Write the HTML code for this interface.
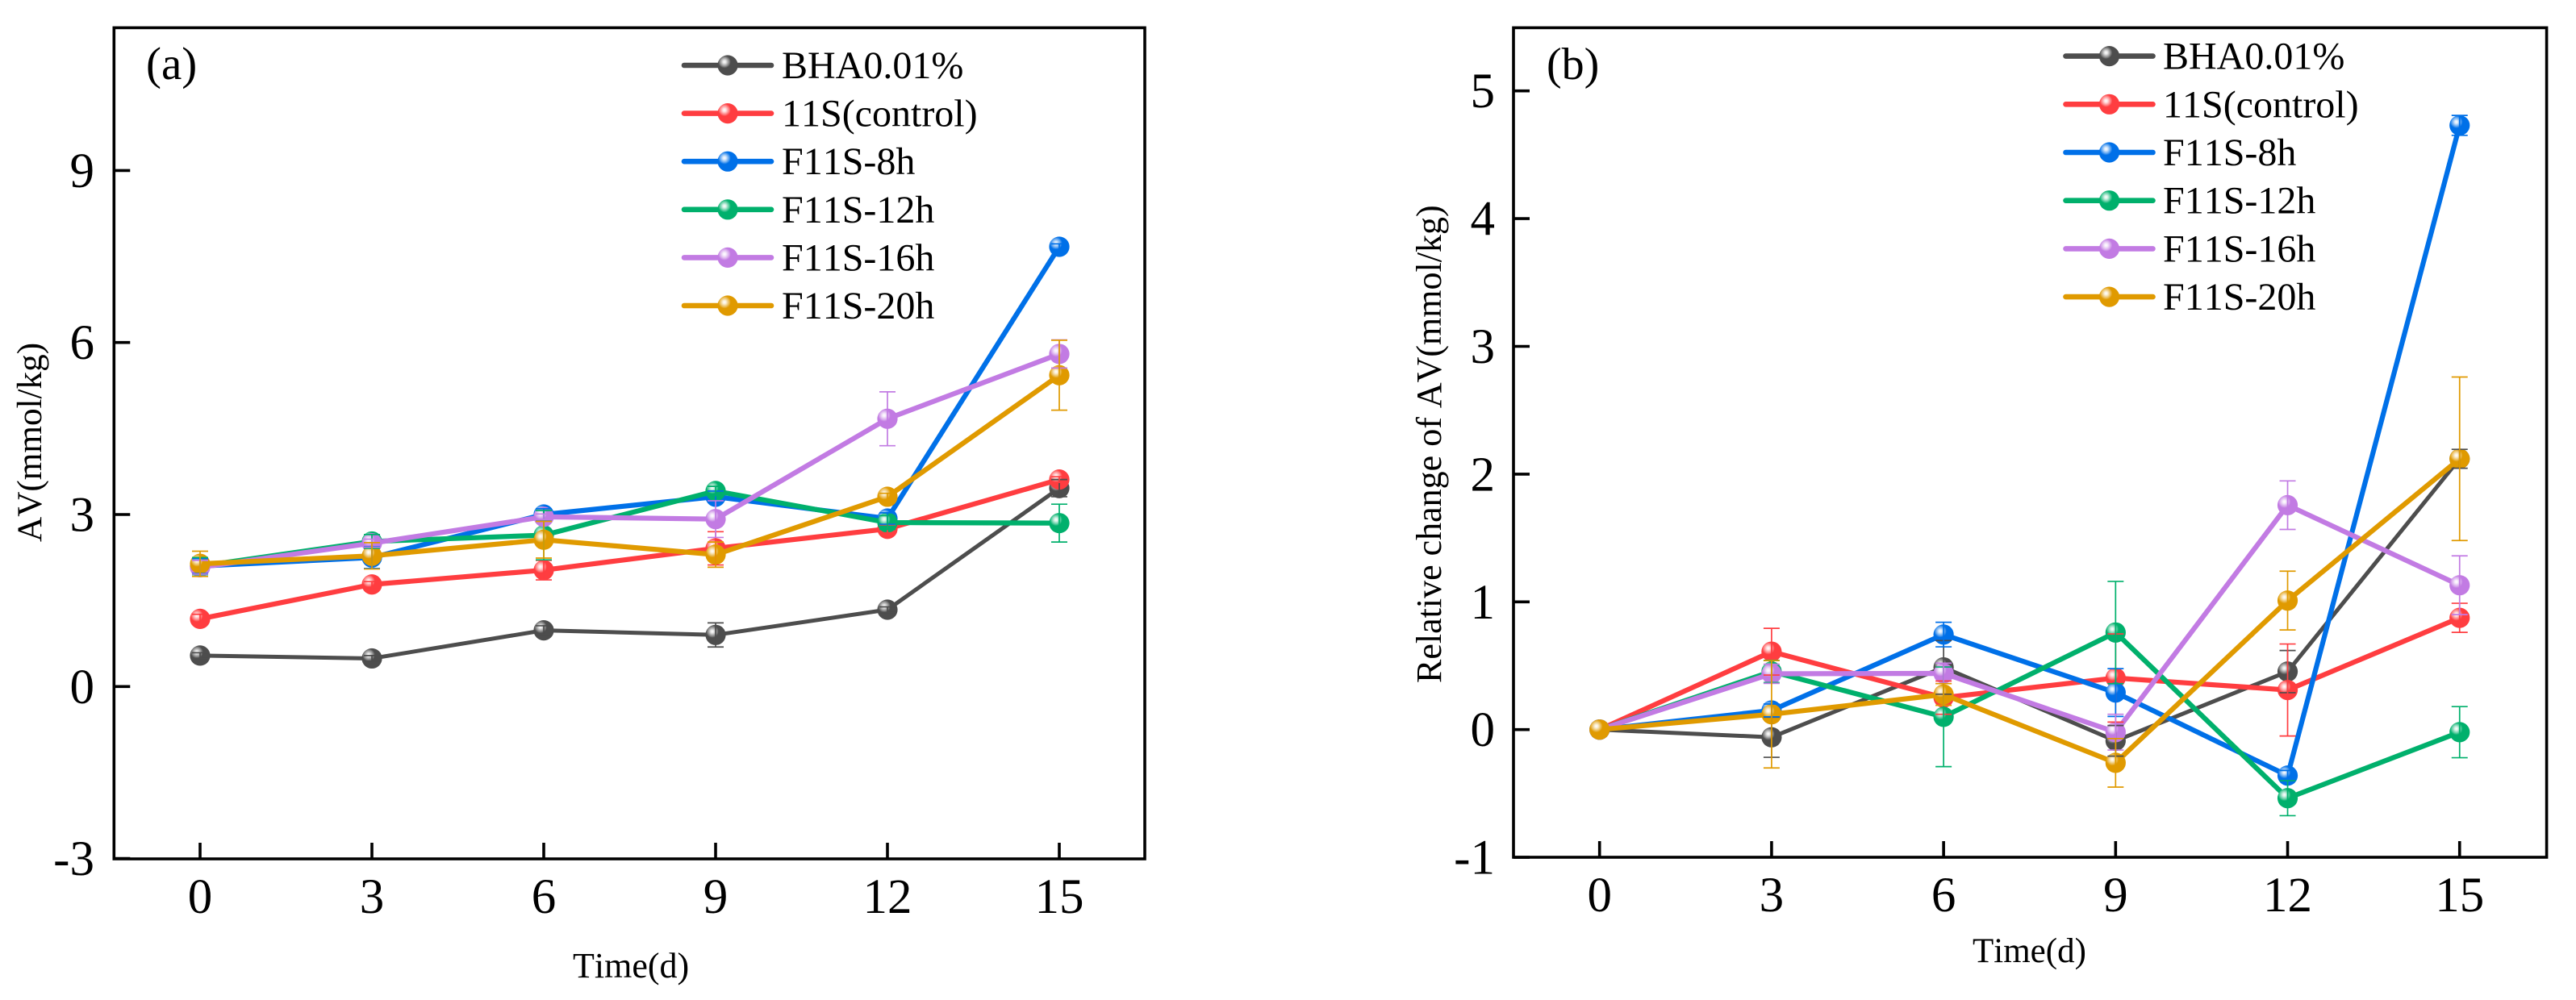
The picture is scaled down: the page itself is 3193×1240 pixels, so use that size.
<!DOCTYPE html>
<html lang="en">
<head>
<meta charset="utf-8">
<title>AV over storage time</title>
<style>
html,body{margin:0;padding:0;background:#fff;}
svg{display:block;}
text{font-family:"Liberation Serif",serif;font-kerning:none;fill:#000;}
</style>
</head>
<body>
<svg id="figure" xmlns="http://www.w3.org/2000/svg" width="3193" height="1240" viewBox="0 0 3193 1240">
  <defs>
    <radialGradient id="gloss" cx="0.34" cy="0.33" r="0.5">
      <stop offset="0" stop-color="#fff" stop-opacity="1"/>
      <stop offset="0.16" stop-color="#fff" stop-opacity="0.85"/>
      <stop offset="0.42" stop-color="#fff" stop-opacity="0.4"/>
      <stop offset="0.62" stop-color="#fff" stop-opacity="0"/>
    </radialGradient>
  </defs>
  <rect x="0" y="0" width="3193" height="1240" fill="#fff"/>
  <g id="panel-a">
    <text x="181" y="98" font-size="57">(a)</text>
    <text x="710" y="1212" font-size="44">Time(d)</text>
    <text transform="translate(51,672) rotate(-90)" font-size="43.2">AV(mmol/kg)</text>
  </g>
  <g id="panel-b">
    <text x="1917" y="98" font-size="56">(b)</text>
    <text x="2445" y="1193" font-size="43">Time(d)</text>
    <text transform="translate(1786,847) rotate(-90)" font-size="44">Relative change of AV(mmol/kg)</text>
  </g>
</svg>
<script>
// Shared categories and series names
const timeDays = [0, 3, 6, 9, 12, 15];
const seriesNames = ['BHA0.01%', '11S(control)', 'F11S-8h', 'F11S-12h', 'F11S-16h', 'F11S-20h'];
const seriesKeys = ['bha', 'control', 'f8h', 'f12h', 'f16h', 'f20h'];
const seriesColors = ['#4d4d4d', '#ff3d40', '#0070e8', '#00b06c', '#c27be3', '#e09a00'];

// Panel (a) values
const avTicks = [-3, 0, 3, 6, 9];
const avBha = [0.54, 0.49, 0.98, 0.90, 1.34, 3.46];
const avControl = [1.18, 1.78, 2.03, 2.41, 2.75, 3.61];
const avF8h = [2.10, 2.25, 3.00, 3.31, 2.93, 7.67];
const avF12h = [2.10, 2.53, 2.64, 3.41, 2.86, 2.85];
const avF16h = [2.08, 2.50, 2.96, 2.92, 4.67, 5.80];
const avF20h = [2.14, 2.28, 2.56, 2.30, 3.31, 5.43];
const avErrBha = [0.05, 0.05, 0.08, 0.21, 0.05, 0.15];
const avErrControl = [0.08, 0.05, 0.17, 0.29, 0.07, 0.05];
const avErrF8h = [0.13, 0.19, 0.10, 0.10, 0.10, 0.05];
const avErrF12h = [0.15, 0.12, 0.43, 0.08, 0.12, 0.33];
const avErrF16h = [0.12, 0.07, 0.05, 0.32, 0.47, 0.245];
const avErrF20h = [0.22, 0.23, 0.32, 0.22, 0.06, 0.61];

// Panel (b) values
const changeTicks = [-1, 0, 1, 2, 3, 4, 5];
const changeBha = [0, -0.06, 0.487, -0.088, 0.454, 2.12];
const changeControl = [0, 0.61, 0.25, 0.404, 0.31, 0.875];
const changeF8h = [0, 0.15, 0.744, 0.29, -0.36, 4.73];
const changeF12h = [0, 0.455, 0.10, 0.76, -0.537, -0.02];
const changeF16h = [0, 0.437, 0.44, -0.02, 1.757, 1.13];
const changeF20h = [0, 0.12, 0.275, -0.26, 1.01, 2.12];
const changeErrBha = [0, 0.157, 0.21, 0.12, 0.165, 0.074];
const changeErrControl = [0, 0.183, 0.13, 0.345, 0.36, 0.114];
const changeErrF8h = [0, 0.05, 0.096, 0.187, 0.04, 0.078];
const changeErrF12h = [0, 0.087, 0.39, 0.40, 0.137, 0.20];
const changeErrF16h = [0, 0.075, 0.08, 0.14, 0.19, 0.23];
const changeErrF20h = [0, 0.42, 0.085, 0.19, 0.23, 0.64];

const SVG_NS = 'http://www.w3.org/2000/svg';

function make(parent, tag, attrs, text) {
  const el = document.createElementNS(SVG_NS, tag);
  for (const k in attrs) el.setAttribute(k, attrs[k]);
  if (text !== undefined) el.textContent = text;
  parent.appendChild(el);
  return el;
}

function drawMarker(parent, cx, cy, color, name) {
  const g = make(parent, 'g', {});
  
  
  make(g, 'circle', { cx: cx, cy: cy, r: 12.6, fill: color });
  make(g, 'circle', { cx: cx, cy: cy, r: 12.6, fill: 'url(#gloss)' });
}

function drawPanel(cfg) {
  const root = document.getElementById(cfg.id);
  const xScale = function (t) { return cfg.x0 + cfg.xPerDay * t; };
  const yScale = function (v) { return cfg.y0 - cfg.yPerUnit * v; };

  // Frame
  const frame = make(root, 'rect', {
    x: cfg.left, y: cfg.top, width: cfg.right - cfg.left, height: cfg.bottom - cfg.top,
    fill: 'none', stroke: '#000', 'stroke-width': 3.6
  });
  
  

  // X axis
  timeDays.forEach(function (t) {
    const tick = make(root, 'line', {
      x1: xScale(t), x2: xScale(t), y1: cfg.bottom, y2: cfg.bottom - 20,
      stroke: '#000', 'stroke-width': 3.6
    });
    
    
    const label = make(root, 'text', {
      x: xScale(t), y: cfg.xLabelBaseline, 'font-size': 61, 'text-anchor': 'middle'
    }, String(t));
    
    
  });

  // Y axis
  cfg.yTicks.forEach(function (v) {
    const tick = make(root, 'line', {
      x1: cfg.left, x2: cfg.left + 20, y1: yScale(v), y2: yScale(v),
      stroke: '#000', 'stroke-width': 3.6
    });
    
    
    const label = make(root, 'text', {
      x: cfg.yLabelRight, y: yScale(v) + 20.5, 'font-size': 61, 'text-anchor': 'end'
    }, String(v));
    
    
  });

  // Series lines and markers
  cfg.values.forEach(function (vals, s) {
    const g = make(root, 'g', {});
    
    
    const pts = vals.map(function (v, i) { return xScale(timeDays[i]) + ',' + yScale(v); }).join(' ');
    const line = make(g, 'polyline', {
      points: pts, fill: 'none', stroke: seriesColors[s],
      'stroke-width': s === 0 ? 5 : 6.2, 'stroke-linejoin': 'round'
    });
    
    
    vals.forEach(function (v, i) {
      drawMarker(g, xScale(timeDays[i]), yScale(v), seriesColors[s],
        cfg.id + '-point-' + seriesKeys[s] + '-' + timeDays[i]);
    });
  });

  // Error bars on top
  cfg.errors.forEach(function (errs, s) {
    const g = make(root, 'g', { stroke: seriesColors[s], 'stroke-width': 1.7, fill: 'none' });
    
    
    errs.forEach(function (e, i) {
      if (!e) return;
      const x = xScale(timeDays[i]);
      const v = cfg.values[s][i];
      const hi = yScale(v + e);
      const lo = yScale(v - e);
      make(g, 'line', { x1: x, x2: x, y1: hi, y2: lo });
      make(g, 'line', { x1: x - 10, x2: x + 10, y1: hi, y2: hi });
      make(g, 'line', { x1: x - 10, x2: x + 10, y1: lo, y2: lo });
    });
  });

  // Legend
  const legend = make(root, 'g', {});
  
  
  seriesNames.forEach(function (name, s) {
    const y = cfg.legendTop + cfg.legendStep * s;
    const entry = make(legend, 'g', {});
    
    
    make(entry, 'line', {
      x1: cfg.legendLineX1, x2: cfg.legendLineX2, y1: y, y2: y,
      stroke: seriesColors[s], 'stroke-width': 6.6, 'stroke-linecap': 'round'
    });
    drawMarker(entry, (cfg.legendLineX1 + cfg.legendLineX2) / 2, y, seriesColors[s],
      cfg.id + '-legend-marker-' + seriesKeys[s]);
    make(entry, 'text', { x: cfg.legendTextX, y: y + 16, 'font-size': 48 }, name);
  });
}

drawPanel({
  id: 'panel-a',
  left: 141.3, right: 1419, top: 34.4, bottom: 1065,
  x0: 248, xPerDay: 71.0, y0: 851.3, yPerUnit: 71.1,
  xLabelBaseline: 1132, yLabelRight: 117,
  yTicks: avTicks,
  values: [avBha, avControl, avF8h, avF12h, avF16h, avF20h],
  errors: [avErrBha, avErrControl, avErrF8h, avErrF12h, avErrF16h, avErrF20h],
  legendTop: 81, legendStep: 59.6,
  legendLineX1: 848, legendLineX2: 956, legendTextX: 969
});

drawPanel({
  id: 'panel-b',
  left: 1876, right: 3156.6, top: 34.4, bottom: 1063,
  x0: 1982.7, xPerDay: 71.07, y0: 904.7, yPerUnit: 158.4,
  xLabelBaseline: 1130, yLabelRight: 1853,
  yTicks: changeTicks,
  values: [changeBha, changeControl, changeF8h, changeF12h, changeF16h, changeF20h],
  errors: [changeErrBha, changeErrControl, changeErrF8h, changeErrF12h, changeErrF16h, changeErrF20h],
  legendTop: 69.6, legendStep: 59.7,
  legendLineX1: 2560.5, legendLineX2: 2668.5, legendTextX: 2681
});
</script>
</body>
</html>
